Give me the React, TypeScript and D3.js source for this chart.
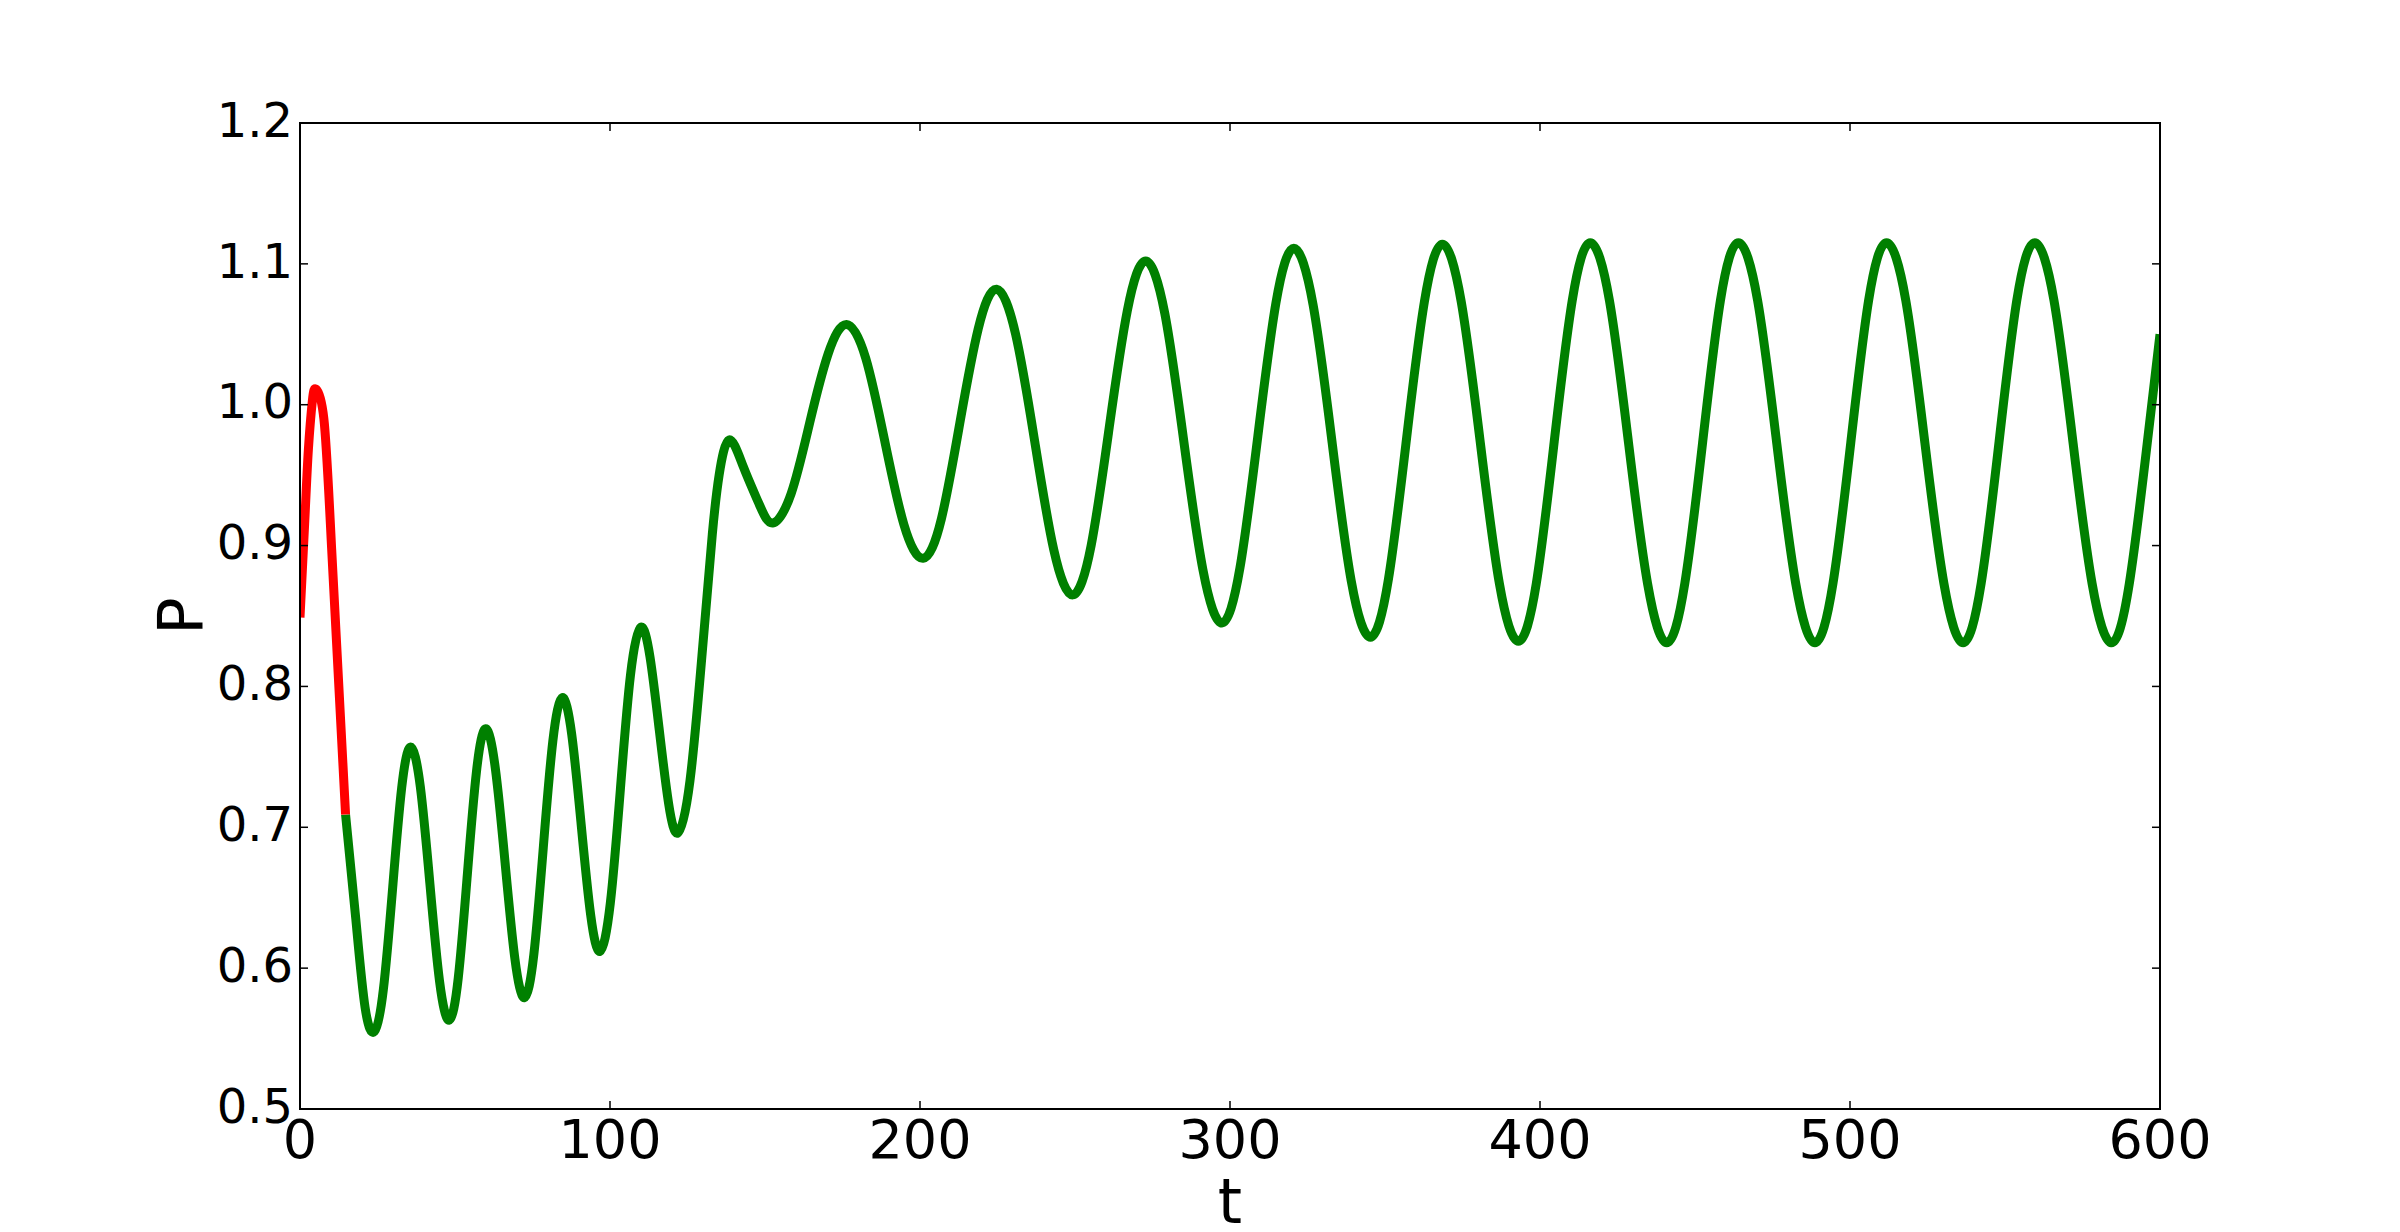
import React from 'react';
import * as d3 from 'd3';

// ---- data ----
const xTicks = [0, 100, 200, 300, 400, 500, 600];
const yTicks = [0.5, 0.6, 0.7, 0.8, 0.9, 1.0, 1.1, 1.2];
const xTickLabels = ['0', '100', '200', '300', '400', '500', '600'];
const yTickLabels = ['0.5', '0.6', '0.7', '0.8', '0.9', '1.0', '1.1', '1.2'];
const xLabel = 't';
const yLabel = 'P';

// initial transient (red)
const redSeries: [number, number][] = [
  [0, 0.849], [1.6, 0.92], [2.7, 0.968], [4.0, 1.003], [5.2, 1.011],
  [7.7, 0.99], [10.2, 0.898], [14.7, 0.709],
];

// remainder (green)
const greenSeries: [number, number][] = [
  [14.7, 0.709], [18.0, 0.635], [21.0, 0.572], [24.0, 0.555],
  [26.9, 0.585], [29.85, 0.656], [32.8, 0.728], [35.7, 0.757],
  [38.8, 0.729], [41.9, 0.66], [45.0, 0.591], [48.1, 0.563],
  [51.05, 0.593], [54.0, 0.667], [56.95, 0.74], [59.9, 0.77],
  [63.0, 0.742], [66.15, 0.675], [69.3, 0.607], [72.4, 0.579],
  [75.45, 0.61], [78.5, 0.686], [81.55, 0.761], [84.6, 0.792],
  [87.65, 0.766], [90.7, 0.702], [93.75, 0.638], [96.8, 0.612],
  [100.1, 0.646], [103.35, 0.727], [106.6, 0.808], [109.9, 0.842],
  [112.9, 0.821], [115.9, 0.769], [118.9, 0.717], [121.9, 0.696],
  [125.8, 0.733], [129.9, 0.828], [133.0, 0.908], [135.2, 0.95], [138.4, 0.975],
  [143.0, 0.956], [148.0, 0.93], [152.5, 0.916],
  [158.45, 0.937], [164.4, 0.987], [170.35, 1.036], [176.3, 1.057],
  [182.5, 1.033], [188.65, 0.974], [194.8, 0.915], [201.0, 0.891],
  [206.9, 0.919], [212.85, 0.987], [218.8, 1.054], [224.7, 1.082],
  [230.85, 1.05], [237.0, 0.974], [243.15, 0.897], [249.3, 0.865],
  [255.2, 0.9], [261.05, 0.984], [266.9, 1.067], [272.8, 1.102],
  [278.95, 1.065], [285.1, 0.974], [291.25, 0.883], [297.4, 0.845],
  [303.2, 0.884], [309.0, 0.978], [314.8, 1.072], [320.6, 1.111],
  [326.8, 1.071], [332.95, 0.973], [339.1, 0.875], [345.3, 0.835],
  [351.1, 0.876], [356.9, 0.975], [362.7, 1.073], [368.5, 1.114],
  [374.6, 1.073], [380.75, 0.973], [386.9, 0.873], [393.0, 0.832],
  [398.8, 0.873], [404.6, 0.974], [410.4, 1.074], [416.2, 1.115],
  [422.4, 1.074], [428.55, 0.973], [434.7, 0.873], [440.9, 0.831],
  [446.7, 0.873], [452.45, 0.973], [458.2, 1.074], [464.0, 1.115],
  [470.2, 1.074], [476.35, 0.973], [482.5, 0.873], [488.7, 0.831],
  [494.5, 0.873], [500.25, 0.973], [506.0, 1.074], [511.8, 1.115],
  [518.0, 1.074], [524.15, 0.973], [530.3, 0.873], [536.5, 0.831],
  [542.3, 0.873], [548.05, 0.973], [553.8, 1.074], [559.6, 1.115],
  [565.8, 1.074], [571.95, 0.973], [578.1, 0.873], [584.3, 0.831],
  [590.1, 0.873], [595.9, 0.973], [600, 1.05],
];

// ---- layout ----
const W = 2400;
const H = 1232;
const plot = { left: 300, top: 123, right: 2160, bottom: 1109 };
const FONT = '"DejaVu Sans", Verdana, sans-serif';

export default function App() {
  const x = d3.scaleLinear().domain([0, 600]).range([plot.left, plot.right]);
  const y = d3.scaleLinear().domain([0.5, 1.2]).range([plot.bottom, plot.top]);

  const line = d3
    .line<[number, number]>()
    .x((d) => x(d[0]))
    .y((d) => y(d[1]))
    .curve(d3.curveNatural);

  const tickLen = 8;
  const pw = plot.right - plot.left;
  const ph = plot.bottom - plot.top;

  return (
    <svg
      width={W}
      height={H}
      viewBox={`0 0 ${W} ${H}`}
      style={{ position: 'absolute', left: 0, top: 0, display: 'block', background: '#fff' }}
    >
      <defs>
        <clipPath id="plotClip">
          <rect x={plot.left} y={plot.top} width={pw} height={ph} />
        </clipPath>
      </defs>
      <rect x={0} y={0} width={W} height={H} fill="#fff" />

      <g clipPath="url(#plotClip)">
        <path
          d={line(greenSeries) || ''}
          fill="none"
          stroke="#008000"
          strokeWidth={9}
          strokeLinejoin="round"
          strokeLinecap="butt"
        />
        <path
          d={line(redSeries) || ''}
          fill="none"
          stroke="#ff0000"
          strokeWidth={9}
          strokeLinejoin="round"
          strokeLinecap="butt"
        />
      </g>

      {/* ticks, all four sides, pointing inward */}
      <g stroke="#000" strokeWidth={1.5}>
        {xTicks.map((t) => (
          <g key={'xt' + t}>
            <line x1={x(t)} x2={x(t)} y1={plot.bottom} y2={plot.bottom - tickLen} />
            <line x1={x(t)} x2={x(t)} y1={plot.top} y2={plot.top + tickLen} />
          </g>
        ))}
        {yTicks.map((v) => (
          <g key={'yt' + v}>
            <line x1={plot.left} x2={plot.left + tickLen} y1={y(v)} y2={y(v)} />
            <line x1={plot.right} x2={plot.right - tickLen} y1={y(v)} y2={y(v)} />
          </g>
        ))}
      </g>

      {/* frame */}
      <rect
        x={plot.left}
        y={plot.top}
        width={pw}
        height={ph}
        fill="none"
        stroke="#000"
        strokeWidth={2}
      />

      {/* tick labels */}
      <g fontFamily={FONT} fill="#000">
        {xTicks.map((t, i) => (
          <text key={'xl' + t} x={x(t)} y={plot.bottom + 48.5} textAnchor="middle" fontSize={54}>
            {xTickLabels[i]}
          </text>
        ))}
        {yTicks.map((v, i) => (
          <text key={'yl' + v} x={plot.left - 7} y={y(v) + 13.7} textAnchor="end" fontSize={48}>
            {yTickLabels[i]}
          </text>
        ))}
      </g>

      {/* axis labels */}
      <text
        x={(plot.left + plot.right) / 2}
        y={1222.5}
        textAnchor="middle"
        fontFamily={FONT}
        fontSize={62}
        fill="#000"
      >
        {xLabel}
      </text>
      <text
        transform={`translate(201.5, ${(plot.top + plot.bottom) / 2}) rotate(-90)`}
        textAnchor="middle"
        fontFamily={FONT}
        fontSize={62}
        fill="#000"
      >
        {yLabel}
      </text>
    </svg>
  );
}
